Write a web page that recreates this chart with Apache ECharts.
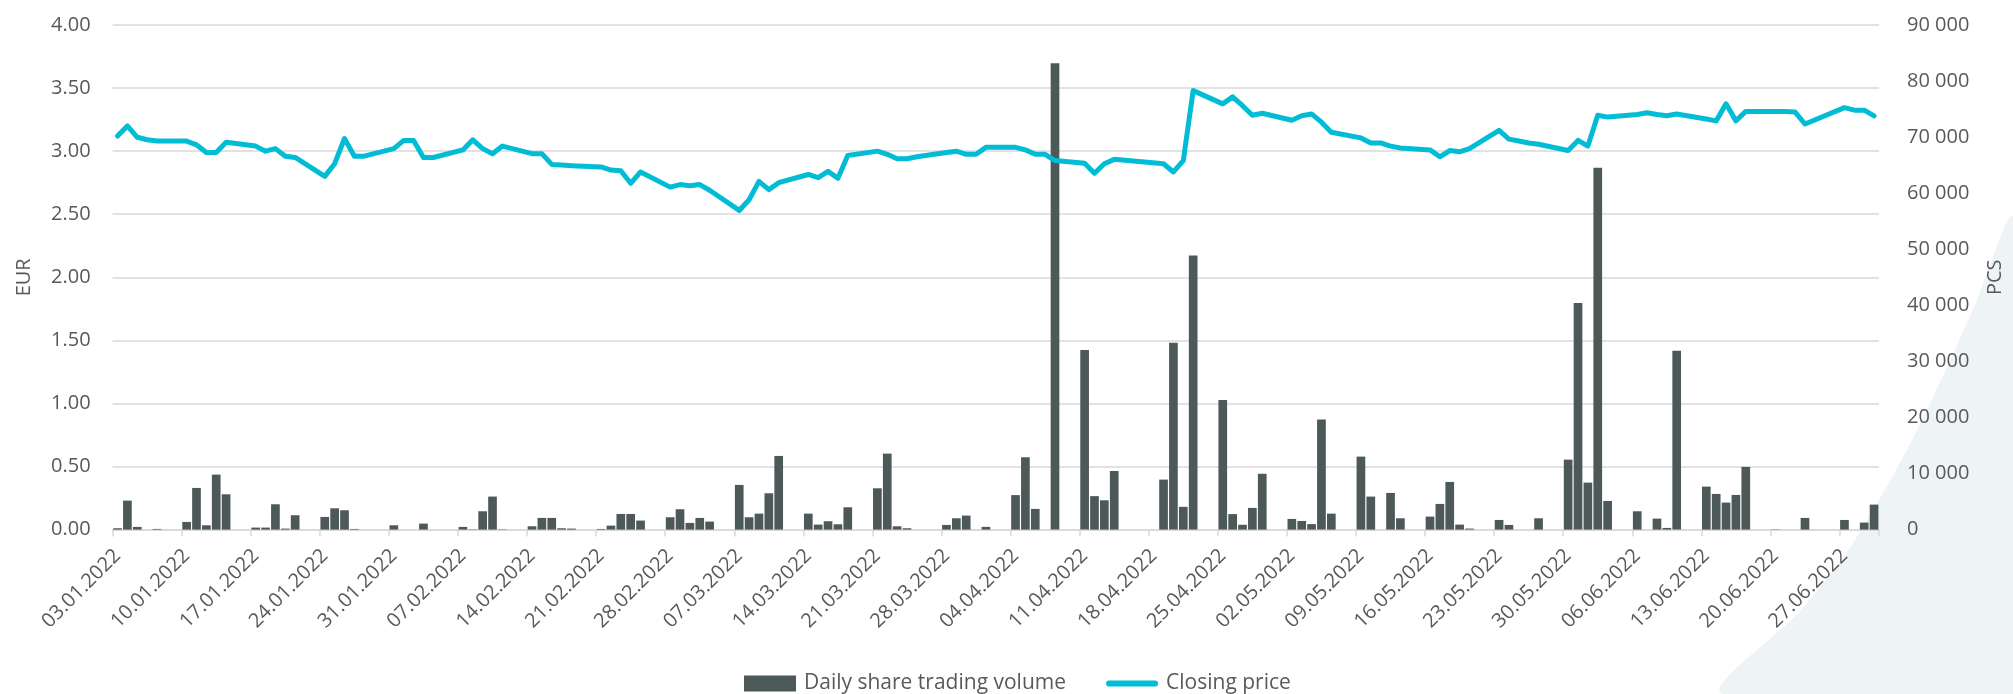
<!DOCTYPE html>
<html>
<head>
<meta charset="utf-8">
<script src="https://cdn.jsdelivr.net/npm/echarts@6/dist/echarts.min.js"></script>
<style>
html,body{margin:0;padding:0;background:#fff;}
#chart{width:2013px;height:694px;}
</style>
</head>
<body>
<div id="chart"></div>
<script>
// Trading days (2022), closing price (EUR) and daily volume (PCS)
const tradeDates = [
'03.01','04.01','05.01','06.01','07.01',
'10.01','11.01','12.01','13.01','14.01',
'17.01','18.01','19.01','20.01','21.01',
'24.01','25.01','26.01','27.01','28.01',
'31.01','01.02','02.02','03.02','04.02',
'07.02','08.02','09.02','10.02','11.02',
'14.02','15.02','16.02','17.02','18.02',
'21.02','22.02','23.02','24.02','25.02',
'28.02','01.03','02.03','03.03','04.03',
'07.03','08.03','09.03','10.03','11.03',
'14.03','15.03','16.03','17.03','18.03',
'21.03','22.03','23.03','24.03','25.03',
'28.03','29.03','30.03','31.03','01.04',
'04.04','05.04','06.04','07.04','08.04',
'11.04','12.04','13.04','14.04',
'19.04','20.04','21.04','22.04',
'25.04','26.04','27.04','28.04','29.04',
'02.05','03.05','04.05','05.05','06.05',
'09.05','10.05','11.05','12.05','13.05',
'16.05','17.05','18.05','19.05','20.05',
'23.05','24.05','25.05','26.05','27.05',
'30.05','31.05','01.06','02.06','03.06',
'06.06','07.06','08.06','09.06','10.06',
'13.06','14.06','15.06','16.06','17.06',
'20.06','21.06','22.06','23.06',
'27.06','28.06','29.06','30.06'
];
const closePrice = [
3.12,3.20,3.11,3.09,3.08,
3.08,3.05,2.99,2.99,3.07,
3.04,3.00,3.02,2.96,2.95,
2.80,2.90,3.10,2.96,2.96,
3.02,3.085,3.085,2.95,2.95,
3.01,3.09,3.02,2.98,3.04,
2.98,2.98,2.895,2.89,2.885,
2.875,2.85,2.845,2.745,2.835,
2.715,2.735,2.725,2.735,2.69,
2.53,2.615,2.76,2.695,2.75,
2.815,2.79,2.84,2.785,2.965,
3.00,2.975,2.94,2.94,2.955,
2.99,3.00,2.975,2.975,3.03,
3.03,3.01,2.975,2.975,2.925,
2.905,2.825,2.90,2.935,
2.90,2.835,2.925,3.48,
3.375,3.43,3.36,3.285,3.30,
3.245,3.28,3.295,3.23,3.15,
3.105,3.065,3.065,3.04,3.025,
3.01,2.955,3.005,2.995,3.02,
3.165,3.095,3.08,3.065,3.055,
3.005,3.085,3.04,3.285,3.27,
3.29,3.305,3.29,3.28,3.295,
3.255,3.24,3.375,3.24,3.315,
3.315,3.315,3.31,3.215,
3.345,3.325,3.325,3.28
];
const volume = [
240,5170,480,0,120,
1370,7430,770,9810,6300,
360,360,4520,180,2560,
2260,3800,3450,120,0,
770,0,0,1070,0,
480,60,3270,5890,60,
590,2080,2080,240,180,
120,710,2790,2790,1610,
2200,3630,1190,2080,1430,
7970,2200,2850,6480,13140,
2850,890,1490,950,3980,
7370,13550,590,240,0,
830,2020,2500,0,480,
6150,12900,3690,0,83200,
32040,5970,5230,10450,
8920,33330,4060,48890,
23120,2770,860,3870,9960,
1900,1540,980,19620,2850,
13020,5890,0,6540,2020,
2320,4580,8500,890,180,
1720,830,0,0,2020,
12480,40430,8380,64560,5110,
3270,0,1960,300,31920,
7670,6360,4820,6180,11180,
50,0,0,2080,
1720,0,1250,4460
];
const seriesNames = ['Daily share trading volume', 'Closing price'];
const axisNames = ['EUR', 'PCS'];
const firstDay = [2022, 0, 3];
const lastDay = [2022, 5, 30];

// calendar-day categories (date axis, like the original)
function pad(n){return (n<10?'0':'')+n;}
const categories = [];
const d = new Date(firstDay[0], firstDay[1], firstDay[2]);
const end = new Date(lastDay[0], lastDay[1], lastDay[2]);
while (d <= end) {
  categories.push(pad(d.getDate()) + '.' + pad(d.getMonth()+1) + '.' + d.getFullYear());
  d.setDate(d.getDate()+1);
}
const priceMap = {}, volMap = {};
tradeDates.forEach((t,i)=>{ priceMap[t+'.2022'] = closePrice[i]; volMap[t+'.2022'] = volume[i]; });
const priceData = categories.map(c => (c in priceMap) ? priceMap[c] : null);
const volData = categories.map(c => (c in volMap) ? volMap[c] : null);

const FONT = 'Open Sans';
const TXT = '#595959';
const GRID = '#d9d9d9';
const BAR = '#4d5858';
const LINE = '#00bcd4';

const chart = echarts.init(document.getElementById('chart'), null, {renderer:'canvas'});
chart.setOption({
  animation: false,
  backgroundColor: '#ffffff',
  textStyle: {fontFamily: FONT},
  graphic: [{
    type: 'polygon',
    z: -10,
    silent: true,
    shape: {points: [[1722,694],[1800,611],[1848,550],[1876,505],[1909,446],[1942,378],[1975,305],[2013,218],[2013,694]], smooth: 0.3},
    style: {fill: '#eef3f6'}
  }],
  grid: {left: 112.6, right: 130.6, top: 25, bottom: 164.4, containLabel: false},
  legend: {
    data: [
      {name: seriesNames[0], icon: 'rect'},
      {name: seriesNames[1], icon: 'path://M6,0 L94,0 A6,6 0 0 1 94,12 L6,12 A6,6 0 0 1 6,0 Z'}
    ],
    left: 739, top: 668,
    itemWidth: 52, itemHeight: 16, itemGap: 40,
    textStyle: {fontFamily: FONT, fontSize: 21, color: TXT, padding: [0,0,0,3]}
  },
  xAxis: {
    type: 'category',
    data: categories,
    boundaryGap: true,
    axisLine: {lineStyle: {color: GRID, width: 1.5}},
    axisTick: {show: true, interval: 6, length: 7, lineStyle: {color: GRID, width: 1.5}},
    axisLabel: {interval: 6, rotate: 45, fontSize: 20, color: TXT, fontFamily: FONT, margin: 23}
  },
  yAxis: [{
    type: 'value', min: 0, max: 4, interval: 0.5,
    name: axisNames[0], nameLocation: 'middle', nameRotate: 90, nameGap: 78,
    nameTextStyle: {fontSize: 20, color: TXT, fontFamily: FONT},
    axisLine: {show: false}, axisTick: {show: false},
    axisLabel: {fontSize: 20, color: TXT, fontFamily: FONT, margin: 22, formatter: v => v.toFixed(2)},
    splitLine: {lineStyle: {color: GRID, width: 1.5}}
  }, {
    type: 'value', min: 0, max: 90000, interval: 10000, position: 'right',
    name: axisNames[1], nameLocation: 'middle', nameRotate: 90, nameGap: 106,
    nameTextStyle: {fontSize: 20, color: TXT, fontFamily: FONT},
    axisLine: {show: false}, axisTick: {show: false},
    axisLabel: {fontSize: 20, color: TXT, fontFamily: FONT, margin: 28,
      formatter: v => String(v).replace(/\B(?=(\d{3})+(?!\d))/g, ' ')},
    splitLine: {show: false}
  }],
  series: [{
    name: seriesNames[0],
    type: 'bar',
    yAxisIndex: 1,
    data: volData,
    barWidth: '88%',
    itemStyle: {color: BAR}
  }, {
    name: seriesNames[1],
    type: 'line',
    yAxisIndex: 0,
    data: priceData,
    connectNulls: true,
    symbol: 'none',
    showSymbol: false,
    lineStyle: {color: LINE, width: 5, join: 'round', cap: 'round'},
    itemStyle: {color: LINE}
  }]
});
</script>
</body>
</html>
